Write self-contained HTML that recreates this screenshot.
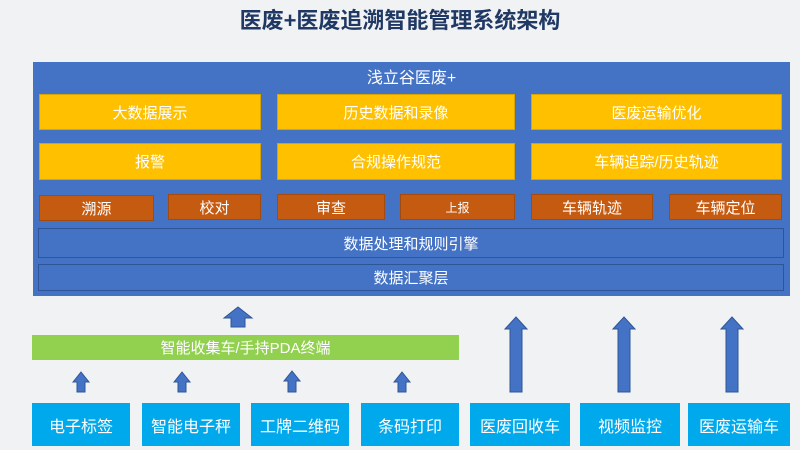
<!DOCTYPE html>
<html><head><meta charset="utf-8"><style>
body{margin:0;width:800px;height:450px;background:#f1f2f3;position:relative;overflow:hidden;font-family:"Liberation Sans","Noto Sans CJK SC",sans-serif;}
.a{position:absolute;display:flex;align-items:center;justify-content:center;color:#fff;box-sizing:border-box;}
.y{background:#ffc000;font-size:15px;border:1px solid #d9a300;}
.o{background:#c55a11;font-size:15px;border:1px solid #a34a0e;}
.b{background:#4472c4;border:1px solid #2f5597;font-size:15px;}
.c{background:#00a9ec;font-size:16px;}
</style></head><body>
<div class="a" style="left:0;top:4px;width:800px;height:30px;color:#1f3864;font-size:22px;font-weight:bold;">医废+医废追溯智能管理系统架构</div>
<div class="a" style="left:33px;top:62px;width:757px;height:234px;background:#4472c4;"></div>
<div class="a" style="left:33px;top:64px;width:757px;height:24px;font-size:16px;">浅立谷医废+</div>
<div class="a y" style="left:39px;top:94px;width:222px;height:36px;">大数据展示</div>
<div class="a y" style="left:277px;top:94px;width:238px;height:36px;">历史数据和录像</div>
<div class="a y" style="left:531px;top:94px;width:251px;height:36px;">医废运输优化</div>
<div class="a y" style="left:39px;top:143px;width:222px;height:37px;">报警</div>
<div class="a y" style="left:277px;top:143px;width:238px;height:37px;">合规操作规范</div>
<div class="a y" style="left:531px;top:143px;width:251px;height:37px;">车辆追踪/历史轨迹</div>
<div class="a o" style="left:39px;top:195px;width:115px;height:26px;">溯源</div>
<div class="a o" style="left:168px;top:194px;width:93px;height:26px;">校对</div>
<div class="a o" style="left:277px;top:194px;width:108px;height:26px;">审查</div>
<div class="a o" style="left:400px;top:194px;width:115px;height:26px;font-size:12px;">上报</div>
<div class="a o" style="left:531px;top:194px;width:122px;height:26px;">车辆轨迹</div>
<div class="a o" style="left:669px;top:194px;width:113px;height:26px;">车辆定位</div>
<div class="a b" style="left:38px;top:228px;width:746px;height:30px;">数据处理和规则引擎</div>
<div class="a b" style="left:38px;top:264px;width:746px;height:27px;">数据汇聚层</div>
<div class="a" style="left:32px;top:335px;width:427px;height:25px;background:#92d050;font-size:15px;">智能收集车/手持PDA终端</div>
<div class="a c" style="left:32px;top:403px;width:98px;height:43px;">电子标签</div>
<div class="a c" style="left:142px;top:403px;width:98px;height:43px;">智能电子秤</div>
<div class="a c" style="left:251px;top:403px;width:98px;height:43px;">工牌二维码</div>
<div class="a c" style="left:361px;top:403px;width:98px;height:43px;">条码打印</div>
<div class="a c" style="left:470px;top:403px;width:100px;height:43px;">医废回收车</div>
<div class="a c" style="left:580px;top:403px;width:100px;height:43px;">视频监控</div>
<div class="a c" style="left:688px;top:403px;width:102px;height:43px;">医废运输车</div>
<svg style="position:absolute;left:0;top:0" width="800" height="450">
<g fill="#4472c4" stroke="#2f5597" stroke-width="1">
<polygon points="224,318 238,307 252,318 245,318 245,327 231,327 231,318"/>
<polygon points="73,382 81,372 89,382 85,382 85,392 77,392 77,382"/>
<polygon points="174,382 182,372 190,382 186,382 186,392 178,392 178,382"/>
<polygon points="284,381 292,371 300,381 296,381 296,392 288,392 288,381"/>
<polygon points="394,382 402,372 410,382 406,382 406,392 398,392 398,382"/>
<polygon points="505,329 516,317 527,329 522,329 522,392 510,392 510,329"/>
<polygon points="613,329 624,317 635,329 630,329 630,392 618,392 618,329"/>
<polygon points="721,329 732,317 743,329 738,329 738,392 726,392 726,329"/>
</g></svg>
</body></html>
